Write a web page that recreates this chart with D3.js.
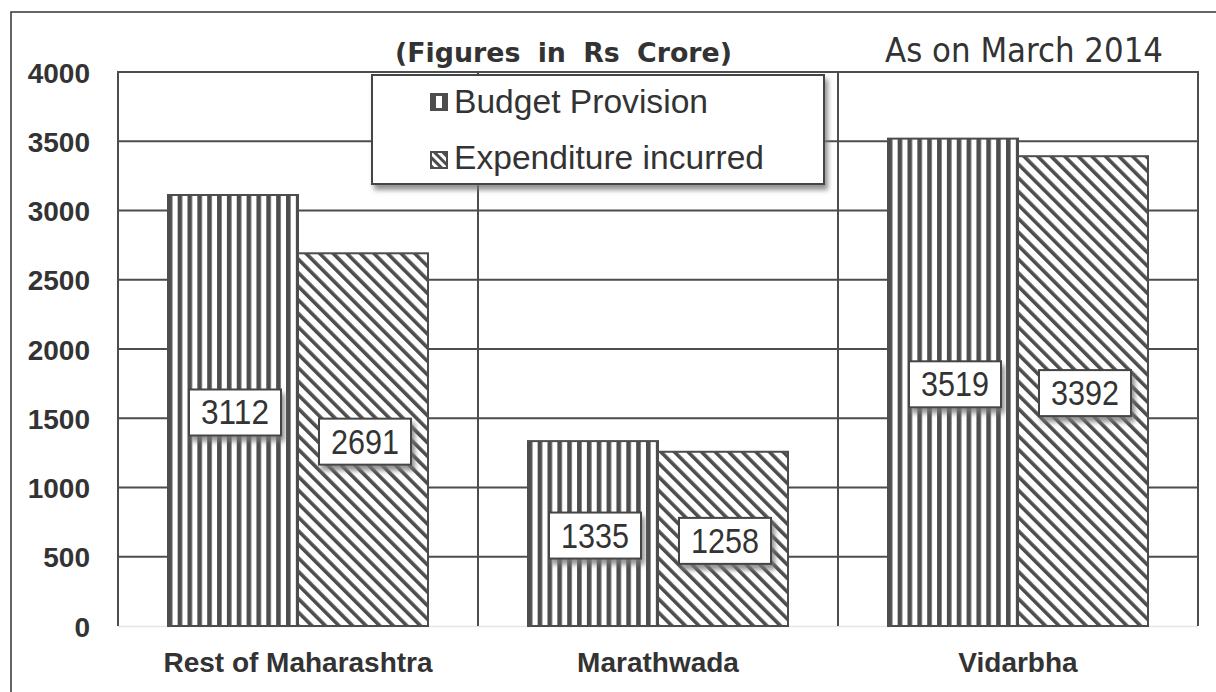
<!DOCTYPE html>
<html><head><meta charset="utf-8">
<script src="https://cdn.jsdelivr.net/npm/d3@7"></script>
<style>html,body{margin:0;padding:0;background:#fff;}svg{display:block;}</style>
</head><body>
<svg id="chart" width="1216" height="692"></svg>
<script>
const categories = ["Rest of Maharashtra", "Marathwada", "Vidarbha"];
const seriesNames = ["Budget Provision", "Expenditure incurred"];
const budgetValues = [3112, 1335, 3519];
const expenditureValues = [2691, 1258, 3392];
const yTicks = [0, 500, 1000, 1500, 2000, 2500, 3000, 3500, 4000];

const dark = "#4d4d4d";
const svg = d3.select("#chart");
const defs = svg.append("defs");

// patterns
const pv = defs.append("pattern").attr("id","vert").attr("patternUnits","userSpaceOnUse")
  .attr("width",9.85).attr("height",10).attr("x",168);
pv.append("rect").attr("width",9.85).attr("height",10).attr("fill","#fff");
pv.append("rect").attr("x",0).attr("width",4.6).attr("height",10).attr("fill",dark);

const pd = defs.append("pattern").attr("id","diag").attr("patternUnits","userSpaceOnUse")
  .attr("width",9.6).attr("height",10).attr("patternTransform","rotate(-45)");
pd.append("rect").attr("width",9.6).attr("height",10).attr("fill","#fff");
pd.append("rect").attr("x",0).attr("width",3.6).attr("height",10).attr("fill",dark);

const pds = defs.append("pattern").attr("id","diagSmall").attr("patternUnits","userSpaceOnUse")
  .attr("width",6).attr("height",6).attr("patternTransform","rotate(-45)");
pds.append("rect").attr("width",6).attr("height",6).attr("fill","#fff");
pds.append("rect").attr("width",3).attr("height",6).attr("fill",dark);

const f = defs.append("filter").attr("id","shadow").attr("x","-20%").attr("y","-20%").attr("width","150%").attr("height","160%");
f.append("feDropShadow").attr("dx",3).attr("dy",5).attr("stdDeviation",2.5).attr("flood-color","#777").attr("flood-opacity",0.8);

// outer frame
svg.append("rect").attr("x",11).attr("y",12).attr("width",1230).attr("height",700)
  .attr("fill","none").attr("stroke","#333").attr("stroke-width",1.5);

const pLeft = 118, pRight = 1198, pTop = 72, pBottom = 626;
const x = d3.scaleBand().domain(categories).range([pLeft, pRight]).paddingInner(0).paddingOuter(0);
const xs = d3.scaleBand().domain(seriesNames).range([0, x.bandwidth()]).paddingInner(0).paddingOuter(50/130);
const y = d3.scaleLinear().domain([0, 4000]).range([pBottom, pTop]);

// bottom faint line
svg.append("line").attr("x1",pLeft).attr("x2",pRight).attr("y1",pBottom+0.5).attr("y2",pBottom+0.5)
  .attr("stroke","#e6e6e6").attr("stroke-width",1.5);

// gridlines
svg.append("g").selectAll("line").data(yTicks.filter(d=>d>0)).join("line")
  .attr("x1",pLeft).attr("x2",pRight).attr("y1",d=>y(d)).attr("y2",d=>y(d))
  .attr("stroke",dark).attr("stroke-width",2);

// vertical separators + axis
const vxs = [pLeft].concat(categories.map(c => x(c) + x.bandwidth()));
svg.append("g").selectAll("line").data(vxs).join("line")
  .attr("x1",d=>d).attr("x2",d=>d).attr("y1",pTop-1).attr("y2",pBottom)
  .attr("stroke",dark).attr("stroke-width",2);

// y axis labels
const yAxis = d3.axisLeft(y).tickValues(yTicks).tickSize(0).tickPadding(28).tickFormat(d3.format("d"));
const ya = svg.append("g").attr("transform",`translate(${pLeft},0)`).call(yAxis);
ya.select(".domain").remove();
ya.selectAll("text").attr("font-family","Liberation Sans, Arial, sans-serif").attr("font-weight","bold")
  .attr("font-size",28).attr("fill","#333").attr("dy","0.36em");

// x axis labels
const xAxis = d3.axisBottom(x).tickSize(0).tickPadding(0);
const xa = svg.append("g").attr("transform",`translate(0,${pBottom})`).call(xAxis);
xa.select(".domain").remove();
xa.selectAll("text").attr("font-family","Liberation Sans, Arial, sans-serif").attr("font-weight","bold")
  .attr("font-size",28).attr("fill","#333").attr("dy",0).attr("y",46);

// bars
const data = categories.map((c,i)=>({c, vals:[{s:seriesNames[0],v:budgetValues[i],fill:"url(#vert)"},{s:seriesNames[1],v:expenditureValues[i],fill:"url(#diag)"}]}));
const groups = svg.append("g").selectAll("g").data(data).join("g").attr("transform",d=>`translate(${x(d.c)},0)`);
groups.selectAll("rect").data(d=>d.vals).join("rect")
  .attr("x",d=>xs(d.s)).attr("width",xs.bandwidth())
  .attr("y",d=>y(d.v)).attr("height",d=>y(0)-y(d.v))
  .attr("fill",d=>d.fill).attr("stroke",dark).attr("stroke-width",2);

// value labels
const lbl = groups.selectAll("g.lbl").data(d=>d.vals).join("g").attr("class","lbl")
  .attr("transform",d=>`translate(${xs(d.s)+xs.bandwidth()/2+2},${(y(d.v)+y(0))/2+2})`);
lbl.append("rect").attr("x",-46).attr("y",-23).attr("width",92).attr("height",46)
  .attr("fill","#fff").attr("stroke","#444").attr("stroke-width",2).attr("filter","url(#shadow)");
lbl.append("text").text(d=>d.v).attr("text-anchor","middle").attr("y",12)
  .attr("font-family","Liberation Sans, Arial, sans-serif").attr("font-size",35).attr("fill","#333")
  .attr("textLength",68).attr("lengthAdjust","spacingAndGlyphs");

// legend
const lg = svg.append("g");
lg.append("rect").attr("x",372).attr("y",75).attr("width",452).attr("height",109)
  .attr("fill","#fff").attr("stroke","#444").attr("stroke-width",2).attr("filter","url(#shadow)");
lg.append("rect").attr("x",430).attr("y",93).attr("width",18).attr("height",18).attr("fill",dark);
lg.append("rect").attr("x",436).attr("y",96).attr("width",6).attr("height",12).attr("fill","#fff");
lg.append("rect").attr("x",431).attr("y",152).attr("width",16).attr("height",16).attr("fill","url(#diagSmall)").attr("stroke",dark).attr("stroke-width",2);
lg.selectAll("text").data(seriesNames).join("text")
  .attr("x",454).attr("y",(d,i)=>113+i*56).text(d=>d)
  .attr("font-family","Liberation Sans, Arial, sans-serif").attr("font-size",33).attr("fill","#333")
  .attr("textLength",(d,i)=>i===0?254:310).attr("lengthAdjust","spacingAndGlyphs");

// titles
svg.append("text").attr("x",395).attr("y",62).text("(Figures in Rs Crore)")
  .attr("font-family","DejaVu Sans, sans-serif").attr("font-weight","bold").attr("font-size",27)
  .attr("word-spacing",8)
  .attr("fill","#333").attr("textLength",337).attr("lengthAdjust","spacingAndGlyphs");
svg.append("text").attr("x",885).attr("y",62).text("As on March 2014")
  .attr("font-family","DejaVu Sans Condensed, DejaVu Sans, sans-serif").attr("font-size",33)
  .attr("fill","#333").attr("textLength",278).attr("lengthAdjust","spacingAndGlyphs");
</script>
</body></html>
